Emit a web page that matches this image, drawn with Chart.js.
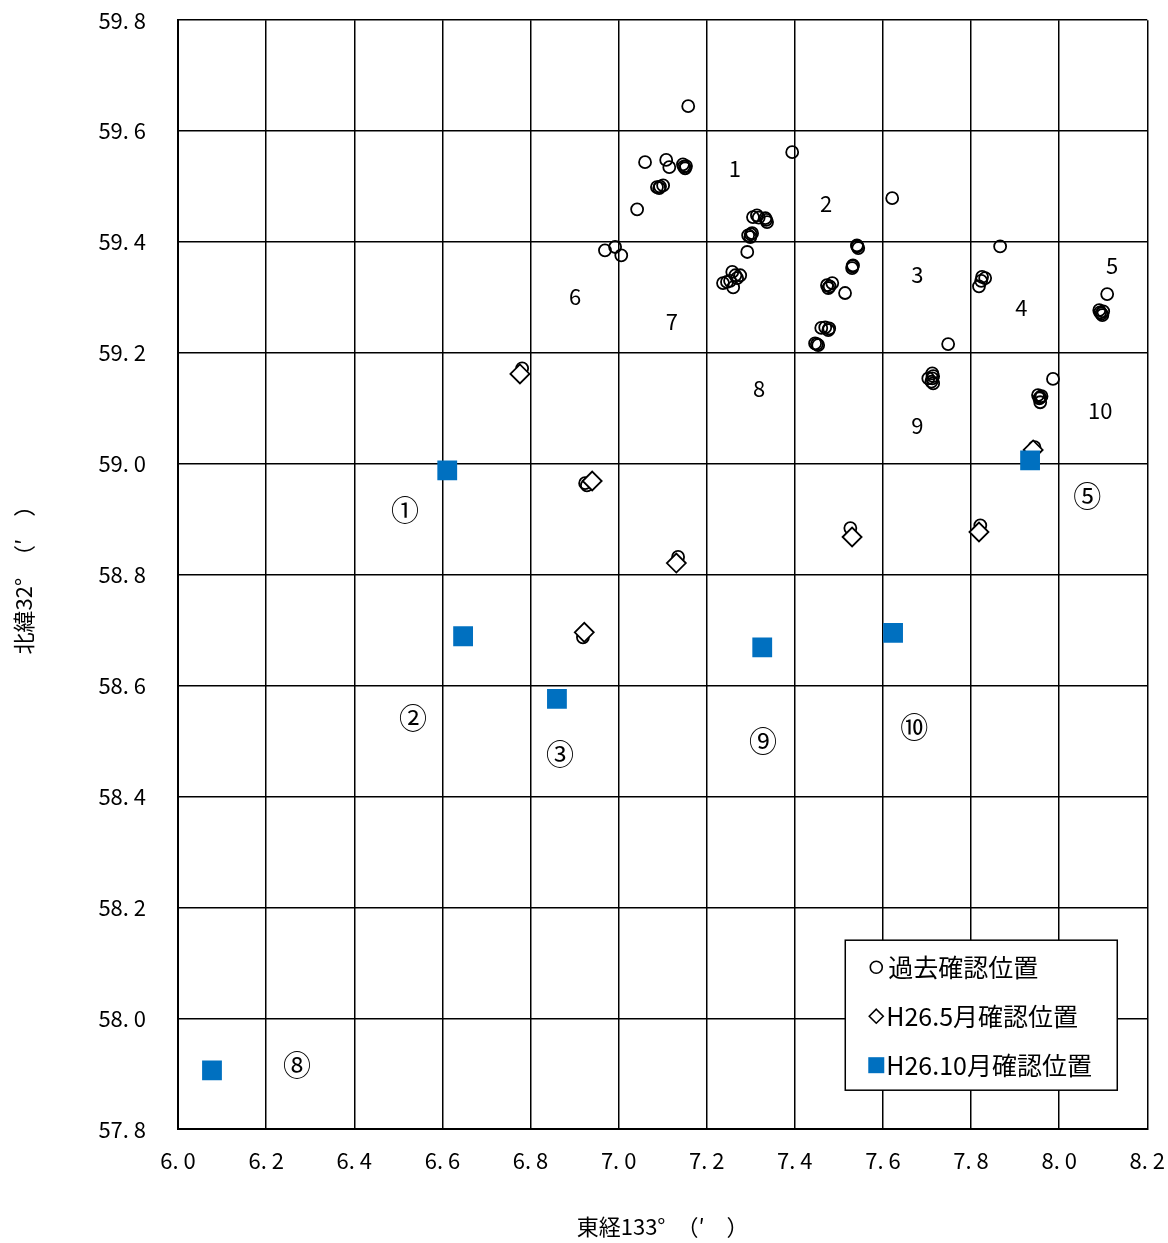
<!DOCTYPE html>
<html>
<head>
<meta charset="utf-8">
<script src="https://cdn.jsdelivr.net/npm/chart.js@4/dist/chart.umd.min.js"></script>
<style>
  html, body { margin: 0; padding: 0; background: #fff; overflow: hidden; }
  #wrap { width: 1183px; height: 1269px; margin-top: -25px; }
</style>
</head>
<body>
<div id="wrap"><canvas id="chart"></canvas></div>
<script>
// past sightings (x: 東経133° minutes, y: 北緯32° minutes)
const pastX = [7.158, 7.060, 7.108, 7.115, 7.146, 7.151, 7.153, 7.148, 7.094, 7.087, 7.101, 7.092,
  7.042, 6.969, 6.992, 7.006, 7.394, 7.314, 7.333, 7.305, 7.337, 7.318, 7.335, 7.303, 7.299,
  7.294, 7.300, 7.292, 7.258, 7.276, 7.246, 7.260, 7.237, 7.269, 7.265, 7.253, 7.541, 7.544,
  7.542, 7.532, 7.530, 7.531, 7.473, 7.485, 7.476, 7.479, 7.514, 7.469, 7.476, 7.460, 7.478,
  7.446, 7.453, 7.450, 7.621, 7.866, 7.825, 7.832, 7.818, 7.823, 8.109, 8.093, 8.098, 8.091,
  8.096, 8.100, 7.748, 7.712, 7.714, 7.712, 7.703, 7.714, 7.710, 7.986, 7.957, 7.952, 7.957,
  7.955, 7.960, 6.781, 6.924, 6.928, 7.135, 6.919, 7.526, 7.821, 7.944];
const pastY = [59.645, 59.544, 59.548, 59.535, 59.540, 59.533, 59.537, 59.536, 59.500, 59.499, 59.502, 59.497,
  59.459, 59.385, 59.391, 59.376, 59.562, 59.448, 59.443, 59.445, 59.436, 59.444, 59.440, 59.416, 59.409,
  59.412, 59.414, 59.382, 59.346, 59.340, 59.328, 59.318, 59.326, 59.335, 59.340, 59.330, 59.394, 59.389,
  59.392, 59.358, 59.353, 59.356, 59.322, 59.326, 59.317, 59.320, 59.308, 59.246, 59.241, 59.245, 59.244,
  59.217, 59.214, 59.216, 59.479, 59.392, 59.337, 59.335, 59.320, 59.330, 59.306, 59.273, 59.268, 59.277,
  59.271, 59.275, 59.216, 59.163, 59.145, 59.154, 59.154, 59.158, 59.148, 59.153, 59.120, 59.124, 59.111,
  59.118, 59.122, 59.172, 58.965, 58.961, 58.832, 58.687, 58.884, 58.889, 59.030];

// H26.5 sightings
const mayX = [6.776, 6.940, 7.131, 6.922, 7.530, 7.818, 7.941];
const mayY = [59.162, 58.969, 58.821, 58.696, 58.868, 58.877, 59.025];

// H26.10 sightings
const octX = [6.611, 6.647, 6.860, 7.326, 7.623, 7.934, 6.077];
const octY = [58.988, 58.689, 58.576, 58.669, 58.695, 59.006, 57.906];

// area labels
const areaText = ['1', '2', '3', '4', '5', '6', '7', '8', '9', '10',
  '①', '②', '③', '⑤', '⑧', '⑨', '⑩'];
const areaX = [7.264, 7.471, 7.678, 7.914, 8.120, 6.901, 7.121, 7.319, 7.678, 8.093,
  6.515, 6.533, 6.867, 8.064, 6.270, 7.328, 7.671];
const areaY = [59.533, 59.470, 59.342, 59.281, 59.358, 59.302, 59.257, 59.135, 59.068, 59.095,
  58.916, 58.541, 58.476, 58.942, 57.915, 58.500, 58.525];

const xTicks = [6.0, 6.2, 6.4, 6.6, 6.8, 7.0, 7.2, 7.4, 7.6, 7.8, 8.0, 8.2];
const yTicks = [57.8, 58.0, 58.2, 58.4, 58.6, 58.8, 59.0, 59.2, 59.4, 59.6, 59.8];

const seriesNames = ['過去確認位置', 'H26.5月確認位置', 'H26.10月確認位置'];
const BLUE = '#0070c0';
const FONT = '"Noto Sans CJK JP", "Noto Sans", sans-serif';

const pts = (xs, ys) => xs.map((x, i) => ({ x: x, y: ys[i] }));
const fmtTick = (v) => v.toFixed(1).replace('.', '. ');

// draws the area numbers inside the plot
const areaLabels = {
  id: 'areaLabels',
  afterDatasetsDraw(chart) {
    const { ctx, scales } = chart;
    ctx.save();
    ctx.fillStyle = '#000';
    ctx.textAlign = 'center';
    ctx.textBaseline = 'middle';
    areaText.forEach((t, i) => {
      // circled digits are drawn a bit larger, like the original
      ctx.font = (/^\d+$/.test(t) ? '22px ' : '28px ') + FONT;
      ctx.fillText(t, scales.x.getPixelForValue(areaX[i]), scales.y.getPixelForValue(areaY[i]));
    });
    ctx.restore();
  }
};

// boxed legend in the lower right
const boxLegend = {
  id: 'boxLegend',
  afterDraw(chart) {
    const { ctx, chartArea } = chart;
    const w = 272, h = 150;
    const left = chartArea.right - 30 - w;
    const top = chartArea.bottom - 39 - h;
    ctx.save();
    ctx.fillStyle = '#fff';
    ctx.fillRect(left, top, w, h);
    ctx.strokeStyle = '#000';
    ctx.lineWidth = 1.5;
    ctx.strokeRect(left, top, w, h);
    ctx.font = '25px ' + FONT;
    ctx.textBaseline = 'middle';
    const rowY = [top + 27, top + 76, top + 125];
    const mx = left + 31;
    // circle
    ctx.lineWidth = 1.6;
    ctx.beginPath();
    ctx.arc(mx, rowY[0], 6, 0, Math.PI * 2);
    ctx.stroke();
    // diamond
    ctx.beginPath();
    ctx.moveTo(mx, rowY[1] - 7);
    ctx.lineTo(mx + 7, rowY[1]);
    ctx.lineTo(mx, rowY[1] + 7);
    ctx.lineTo(mx - 7, rowY[1]);
    ctx.closePath();
    ctx.stroke();
    // square
    ctx.fillStyle = BLUE;
    ctx.fillRect(mx - 8, rowY[2] - 8, 16, 16);
    ctx.fillStyle = '#000';
    ctx.fillText(seriesNames[0], left + 43, rowY[0]);
    ctx.fillText(seriesNames[1], left + 41, rowY[1]);
    ctx.fillText(seriesNames[2], left + 41, rowY[2]);
    ctx.restore();
  }
};

new Chart(document.getElementById('chart'), {
  type: 'scatter',
  data: {
    datasets: [
      { label: seriesNames[0], data: pts(pastX, pastY), order: 3,
        pointStyle: 'circle', pointRadius: 6, pointBorderWidth: 1.8,
        borderColor: '#000', backgroundColor: 'rgba(0,0,0,0)' },
      { label: seriesNames[1], data: pts(mayX, mayY), order: 2,
        pointStyle: 'rectRot', pointRadius: 9.5, pointBorderWidth: 1.8,
        borderColor: '#000', backgroundColor: '#fff' },
      { label: seriesNames[2], data: pts(octX, octY), order: 1,
        pointStyle: 'rect', pointRadius: 14, pointBorderWidth: 0,
        borderColor: BLUE, backgroundColor: BLUE }
    ]
  },
  options: {
    responsive: true,
    maintainAspectRatio: false,
    animation: false,
    layout: { padding: { top: 9, right: 0, left: 10, bottom: 4 } },
    plugins: { legend: { display: false }, tooltip: { enabled: false } },
    scales: {
      x: {
        type: 'linear', min: 6.0, max: 8.2,
        afterBuildTicks: (axis) => { axis.ticks = xTicks.map(v => ({ value: v })); },
        ticks: { callback: fmtTick, color: '#000', padding: 18, maxRotation: 0,
          font: { family: FONT, size: 22 } },
        grid: { color: '#000', lineWidth: 1.5, drawTicks: false },
        border: { color: '#000', width: 2 },
        title: { display: true, text: '東経133°　（′　）', color: '#000',
          font: { family: FONT, size: 22 }, padding: { top: 22, bottom: 0 } }
      },
      y: {
        type: 'linear', min: 57.8, max: 59.8,
        afterBuildTicks: (axis) => { axis.ticks = yTicks.map(v => ({ value: v })); },
        ticks: { callback: fmtTick, color: '#000', padding: 32,
          font: { family: FONT, size: 22 } },
        grid: { color: '#000', lineWidth: 1.5, drawTicks: false },
        border: { color: '#000', width: 2 },
        title: { display: true, text: '北緯32°　（′　）', color: '#000',
          font: { family: FONT, size: 22 }, padding: { top: 0, bottom: 30 } }
      }
    }
  },
  plugins: [areaLabels, boxLegend]
});
</script>
</body>
</html>
